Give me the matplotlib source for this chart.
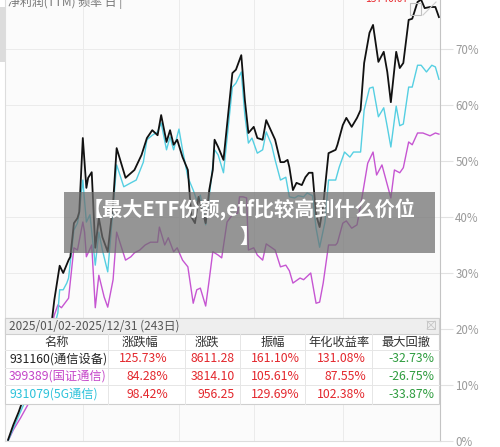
import matplotlib
matplotlib.use('Agg')
import matplotlib.pyplot as plt
from matplotlib.patches import Rectangle
from matplotlib.lines import Line2D

plt.rcParams['font.family'] = ['Noto Sans CJK SC', 'DejaVu Sans']

# 931160(通信设备) - cumulative return, % (trading day index)
black_days = [0, 3, 6, 8, 12, 17, 21, 24, 25, 26, 29, 31, 34, 35, 37, 39, 40, 42, 44, 45,
              47, 49, 51, 53, 56, 59, 61, 66, 71, 75, 78, 81, 84, 86, 89, 91, 93, 95, 98, 101,
              103, 105, 107, 109, 111, 113, 115, 116, 118, 121, 126, 128, 131, 133, 135, 138, 140, 143, 145, 148,
              150, 153, 155, 157, 158, 160, 162, 165, 167, 169, 171, 173, 175, 177, 180, 184, 185, 188, 190, 193,
              196, 198, 200, 203, 205, 208, 211, 213, 215, 218, 220, 222, 225, 227, 230, 232, 234, 237, 240, 242]
black_pct = [0.2, 2.9, 5.2, 7.0, 10.0, 13.6, 17.1, 19.8, 22.5, 25.2, 31.3, 30.0, 32.3, 32.9, 38.9, 39.8, 40.9, 54.1, 45.2, 47.0,
             48.0, 34.5, 39.8, 36.4, 33.8, 42.5, 52.3, 47.0, 48.4, 51.1, 54.1, 55.5, 54.6, 58.2, 53.4, 55.5, 52.9, 53.8, 50.7, 48.4,
             40.0, 38.9, 43.6, 41.3, 38.9, 44.8, 48.4, 53.8, 52.5, 50.2, 65.7, 66.3, 68.9, 60.9, 55.0, 56.1, 54.1, 53.8, 57.3, 55.2,
             53.8, 49.8, 49.8, 50.2, 48.9, 44.8, 46.1, 45.7, 47.1, 47.9, 47.9, 40.4, 38.2, 42.1, 51.4, 52.0, 52.9, 56.4, 57.7, 56.1,
             57.7, 59.1, 67.5, 72.9, 74.3, 67.7, 69.5, 65.9, 60.5, 69.5, 66.6, 67.5, 75.2, 75.4, 78.4, 78.8, 77.3, 77.5, 77.5, 75.7]

# 931079(5G通信)
cyan_days = [0, 3, 7, 12, 18, 24, 28, 29, 31, 33, 34, 37, 39, 40, 42, 44, 46, 49, 51, 53,
             56, 61, 65, 69, 72, 76, 78, 81, 84, 86, 89, 91, 93, 96, 98, 101, 104, 106, 108, 111,
             113, 116, 118, 121, 126, 128, 131, 133, 135, 137, 140, 143, 145, 148, 150, 153, 156, 158, 161, 163,
             166, 168, 171, 173, 175, 178, 180, 184, 186, 189, 192, 194, 198, 200, 203, 205, 208, 211, 213, 215,
             218, 220, 222, 225, 227, 230, 232, 235, 238, 240, 242]
cyan_pct = [0.0, 2.3, 5.2, 8.8, 13.0, 18.0, 22.9, 27.0, 27.0, 28.2, 29.1, 37.7, 38.9, 40.7, 46.6, 39.1, 40.4, 31.4, 37.3, 34.1,
            30.2, 49.3, 45.4, 46.1, 46.6, 49.8, 53.8, 54.6, 55.2, 56.8, 52.0, 54.3, 52.0, 55.7, 52.0, 47.1, 44.8, 43.0, 43.9, 38.6,
            43.6, 52.0, 51.1, 47.9, 63.2, 63.9, 65.9, 58.2, 53.2, 54.1, 51.4, 52.0, 55.2, 52.9, 50.2, 46.6, 47.1, 43.6, 43.4, 43.8,
            43.6, 44.3, 43.8, 38.0, 34.6, 39.1, 46.6, 46.6, 48.9, 51.6, 50.7, 51.6, 51.6, 59.1, 63.0, 63.2, 57.9, 59.5, 56.1, 52.5,
            59.8, 56.3, 56.6, 63.2, 63.2, 67.1, 67.1, 65.9, 67.1, 66.8, 64.6]

# 399389(国证通信)
mag_days = [0, 3, 7, 11, 17, 22, 26, 28, 30, 34, 37, 39, 42, 43, 44, 47, 49, 51, 54, 56,
            59, 61, 66, 69, 71, 74, 77, 80, 84, 85, 88, 90, 93, 95, 98, 101, 104, 106, 108, 111,
            113, 115, 118, 120, 123, 126, 129, 130, 132, 134, 135, 138, 140, 143, 145, 150, 153, 156, 158, 160,
            164, 166, 170, 173, 175, 177, 180, 184, 185, 188, 190, 193, 196, 199, 202, 205, 207, 210, 215, 217,
            220, 222, 225, 227, 230, 233, 237, 240, 242]
mag_pct = [0.0, 2.0, 4.1, 6.4, 10.9, 17.1, 22.5, 24.3, 23.8, 25.5, 34.5, 34.1, 39.1, 37.3, 32.9, 35.0, 23.8, 29.6, 25.7, 23.9,
           28.8, 37.3, 32.3, 32.9, 33.6, 34.1, 35.0, 35.5, 35.5, 38.2, 35.0, 36.3, 33.8, 34.5, 32.3, 31.1, 24.6, 27.0, 27.3, 24.1,
           28.8, 33.8, 33.2, 32.7, 39.1, 40.4, 40.7, 43.6, 43.6, 43.4, 34.1, 34.5, 33.2, 32.3, 35.2, 34.1, 31.1, 31.4, 30.4, 28.2,
           29.1, 28.8, 30.0, 24.6, 24.8, 28.2, 35.0, 35.0, 35.4, 38.9, 39.3, 38.0, 38.6, 43.9, 49.6, 51.6, 47.5, 49.3, 43.4, 48.4,
           47.9, 48.8, 53.4, 52.9, 55.0, 55.0, 54.5, 55.0, 54.8]

grid_days = [42, 96, 138, 188]
y_ticks = [0, 10, 20, 30, 40, 50, 60, 70]

# summary table
columns = ['名称', '涨跌幅', '涨跌', '振幅', '年化收益率', '最大回撤']
names = ['931160(通信设备)', '399389(国证通信)', '931079(5G通信)']
chg_pct = ['125.73%', '84.28%', '98.42%']
chg = ['8611.28', '3814.10', '956.25']
amplitude = ['161.10%', '105.61%', '129.69%']
annual = ['131.08%', '87.55%', '102.38%']
drawdown = ['-32.73%', '-26.75%', '-33.87%']

W, H = 500, 447


def fx(x):
    return x / W


def fy(y):
    return 1 - y / H


fig = plt.figure(figsize=(5, 4.47), dpi=100)
ax = fig.add_axes([fx(5), fy(441), 435 / W, 441 / H])
ax.set_facecolor('#fbfbfb')

ax.plot(mag_days, mag_pct, color='#c655d2', lw=1.0)
ax.plot(cyan_days, cyan_pct, color='#55cfe2', lw=1.0)
ax.plot(black_days, black_pct, color='#111111', lw=1.3)

ax.set_xlim(-1.7, 242.6)
ax.set_ylim(0, 78.75)
ax.set_xticks(grid_days)
ax.set_xticklabels([])
ax.tick_params(axis='x', length=0)
ax.yaxis.tick_right()
ax.set_yticks(y_ticks)
ax.set_yticklabels([f'{v}%' for v in y_ticks])
ax.tick_params(axis='y', length=9, color='#e2e2e2', labelcolor='#9a9a9a', labelsize=8.3, pad=2)
ax.grid(True, color='#ebebeb', lw=0.7)
for s in ['left', 'bottom']:
    ax.spines[s].set_color('#dddddd')
ax.spines['right'].set_color('#c4c4c4')
ax.spines['top'].set_visible(False)


def rect(x0, y0, x1, y1, **kw):
    fig.add_artist(Rectangle((fx(x0), fy(y1)), (x1 - x0) / W, (y1 - y0) / H,
                             transform=fig.transFigure, **kw))


def hline(x0, x1, y, **kw):
    fig.add_artist(Line2D([fx(x0), fx(x1)], [fy(y), fy(y)], transform=fig.transFigure, **kw))


def vline(x, y0, y1, **kw):
    fig.add_artist(Line2D([fx(x), fx(x)], [fy(y0), fy(y1)], transform=fig.transFigure, **kw))


# header bits cut off at the top
fig.text(fx(8), fy(2), '净利润(TTM) 频率 日 |', color='#777777', fontsize=8.6, va='center')
fig.text(fx(365), fy(-1), '15740.07', color='#e8282d', fontsize=7.5, va='center')
rect(0, 7, 4.5, 62, facecolor='#dcdcdc', edgecolor='none')
rect(410, 3, 421, 15, facecolor='none', edgecolor='#c0c0c0', lw=0.8)
fig.add_artist(Line2D([fx(423), fx(436)], [fy(15), fy(2)], transform=fig.transFigure, color='#cccccc', lw=0.8))

# title banner
rect(64, 192, 435, 253, facecolor='#6e6e6e', edgecolor='none', alpha=0.72)
fig.text(fx(249.5), fy(223), '【最大ETF份额,etf比较高到什么价位\n】', color='white',
         fontsize=14.5, fontweight='bold', ha='center', va='center', linespacing=1.25)

# summary table
rect(5, 318, 439, 404, facecolor='white', edgecolor='#cfcfcf', lw=0.8)
rect(5, 318, 439, 334, facecolor='#eeeeee', edgecolor='#cfcfcf', lw=0.8)
fig.text(fx(9), fy(326.5), '2025/01/02-2025/12/31 (243日)', color='#555555', fontsize=8.5, va='center')
rect(427, 321, 435, 329, facecolor='none', edgecolor='#c8c8c8', lw=0.7)
fig.add_artist(Line2D([fx(427), fx(435)], [fy(321), fy(329)], transform=fig.transFigure, color='#c8c8c8', lw=0.6))
fig.add_artist(Line2D([fx(427), fx(435)], [fy(329), fy(321)], transform=fig.transFigure, color='#c8c8c8', lw=0.6))

for y in [350, 368, 385]:
    hline(5, 439, y, color='#e6e6e6', lw=0.7)
for x in [108, 185, 240, 305, 372]:
    vline(x, 334, 404, color='#e6e6e6', lw=0.7)

header_x = [57, 140, 207, 273, 339, 406]
for x, c in zip(header_x, columns):
    fig.text(fx(x), fy(342.5), c, color='#333333', fontsize=8.8, ha='center', va='center')

row_y = [359, 376.5, 394]
name_colors = ['#222222', '#c444c8', '#2cc2da']
value_right = [168, 235, 300, 366, 434]
for i in range(3):
    fig.text(fx(9), fy(row_y[i]), names[i], color=name_colors[i], fontsize=8.8, va='center')
    vals = [chg_pct[i], chg[i], amplitude[i], annual[i], drawdown[i]]
    for j, v in enumerate(vals):
        col = '#2e9c3e' if j == 4 else '#e3272d'
        fig.text(fx(value_right[j]), fy(row_y[i]), v, color=col, fontsize=8.8, ha='right', va='center')

plt.savefig('out.png', dpi=100)
